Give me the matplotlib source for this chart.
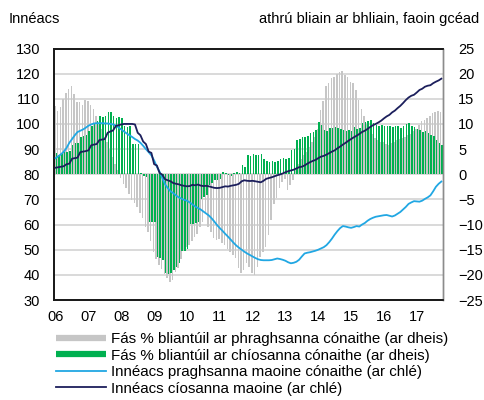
import matplotlib
matplotlib.use("Agg")
import matplotlib.pyplot as plt
from matplotlib.lines import Line2D
import numpy as np

plt.rcParams['font.family'] = ['Liberation Sans', 'DejaVu Sans']

year_labels = ['06', '07', '08', '09', '10', '11', '12', '13', '14', '15', '16', '17']

# Monthly, Jan 2006 .. Oct 2017
house_price_growth = [
    13.5, 12.6, 13.3, 15.0, 16.1, 16.9, 17.5, 16.0, 14.3, 14.4, 13.8, 14.8,
    14.5, 13.8, 13.0, 11.5, 10.0, 9.0, 7.5, 6.5, 5.0, 3.5, 2.0, 0.8,
    -0.8, -2.0, -2.8, -4.0, -5.1, -5.8, -6.5, -7.8, -8.6, -10.5, -11.4, -13.2,
    -15.4, -16.8, -18.0, -18.8, -19.8, -20.6, -21.4, -21.0, -19.4, -18.6, -16.8, -15.2,
    -14.4, -14.1, -13.2, -12.4, -11.8, -10.4, -9.4, -7.6, -10.4, -11.4, -12.7, -13.1,
    -12.8, -13.7, -14.1, -14.8, -15.4, -16.1, -16.6, -18.7, -19.7, -19.0, -17.7, -18.5,
    -19.7, -20.1, -18.5, -16.5, -15.5, -14.5, -12.0, -9.0, -6.0, -4.8, -2.7, -1.5,
    -1.0, -3.2, -2.2, -1.2, 0.8, 2.0, 3.0, 3.8, 4.5, 5.5, 6.5, 7.5,
    9.0, 12.8, 14.5, 17.5, 18.1, 19.1, 19.4, 20.0, 20.4, 20.6, 19.8, 19.4,
    18.4, 18.1, 16.8, 14.8, 13.0, 11.5, 10.0, 9.0, 8.0, 7.2, 6.8, 6.5,
    6.5, 6.0, 5.8, 6.2, 6.5, 6.8, 7.0, 7.2, 7.5, 7.8, 8.0, 8.5,
    9.0, 9.8, 10.5, 10.8, 11.2, 11.5, 12.2, 12.3, 12.5, 12.4,
]

rent_growth = [
    4.3, 3.9, 4.2, 4.5, 4.5, 4.6, 5.9, 6.3, 6.2, 7.5, 7.6, 7.8,
    8.5, 9.6, 10.0, 10.6, 11.5, 11.4, 11.6, 12.3, 12.4, 11.6, 11.2, 11.3,
    11.2, 9.5, 9.4, 9.5, 6.0, 6.0, 6.0, 0.2, -0.3, -0.5, -9.4, -9.5,
    -9.4, -16.5, -16.7, -17.0, -19.6, -19.8, -19.6, -19.0, -18.5, -17.7, -15.3, -15.2,
    -14.8, -9.8, -9.8, -9.6, -9.5, -5.0, -4.5, -4.1, -2.1, -1.8, -1.2, -1.1,
    -0.9, 0.5, 0.3, -0.2, -0.4, 0.2, 0.4, 0.3, 1.8, 1.5, 3.8, 3.6,
    4.0, 3.9, 3.8, 4.0, 3.0, 2.6, 2.5, 2.6, 2.4, 2.6, 3.0, 3.2,
    3.0, 3.3, 4.8, 5.0, 6.8, 7.0, 7.5, 7.4, 7.6, 8.2, 8.4, 8.8,
    10.3, 9.8, 8.8, 8.5, 9.2, 9.1, 9.3, 9.2, 9.0, 8.8, 8.6, 8.7,
    8.5, 9.4, 9.0, 9.2, 10.2, 10.3, 10.5, 10.7, 10.2, 9.8, 9.5, 9.7,
    9.6, 9.6, 9.5, 9.4, 9.6, 9.5, 9.2, 9.6, 10.0, 10.1, 9.6, 9.4,
    8.9, 8.7, 8.4, 8.6, 8.3, 7.9, 7.6, 6.9, 6.3, 5.8,
]

house_price_index = [
    86.4, 87.2, 88.0, 89.0, 90.5, 92.5, 94.0, 95.5, 96.8, 97.3, 97.8, 98.5,
    99.3, 99.8, 100.2, 100.3, 100.3, 100.3, 100.2, 100.2, 100.0, 99.8, 99.4, 98.6,
    97.8, 97.0, 96.2, 95.5, 94.8, 94.0, 93.4, 92.5, 91.3, 90.0, 88.8, 87.5,
    85.5, 83.0, 81.0, 78.5, 76.0, 74.5, 73.2, 72.5, 71.6, 70.8, 70.3, 69.8,
    69.5, 68.8, 68.0, 67.2, 66.6, 66.0, 65.2, 64.4, 63.6, 62.5, 61.2, 59.8,
    58.6, 57.5, 56.3, 55.2, 54.0, 52.8, 51.7, 50.8, 50.0, 49.2, 48.5, 47.9,
    47.3, 46.7, 46.2, 45.9, 45.8, 45.8, 45.8, 45.9, 46.2, 46.5, 46.3, 46.0,
    45.6, 45.0, 44.6, 44.8, 45.2, 46.0, 47.3, 48.5, 48.8, 49.0, 49.3, 49.6,
    50.0, 50.5, 51.0, 51.8, 53.0, 54.4, 56.0, 57.4, 58.6, 59.4, 59.2, 58.9,
    58.7, 59.0, 59.4, 59.2, 60.0, 60.6, 61.5, 62.2, 62.7, 63.1, 63.3, 63.5,
    63.7, 63.8, 63.5, 63.2, 63.6, 64.3, 65.0, 66.0, 67.0, 68.2, 68.8, 69.3,
    69.2, 69.1, 69.5, 70.2, 70.8, 71.6, 73.2, 75.0, 76.2, 77.1,
]

rent_index = [
    82.6, 82.8, 83.0, 83.2, 84.0, 84.2, 86.2, 86.4, 86.6, 88.8, 89.0, 89.2,
    89.5, 91.5, 91.8, 92.0, 93.6, 93.8, 94.0, 96.5, 97.0, 97.4, 99.2, 99.5,
    99.8, 100.0, 100.0, 100.0, 100.0, 99.8, 96.5, 95.5, 93.0, 92.0, 89.0, 88.5,
    84.0, 83.5, 80.5, 79.8, 78.0, 77.6, 77.2, 76.5, 76.2, 76.0, 75.6, 75.4,
    75.2, 75.3, 75.8, 75.6, 75.9, 75.5, 75.3, 75.4, 75.2, 74.9, 74.6, 74.5,
    74.6, 74.9, 75.2, 75.1, 75.4, 75.6, 75.8, 76.2, 77.2, 77.6, 77.4, 77.3,
    77.4, 77.2, 77.0, 76.8, 77.4, 78.2, 78.5, 78.8, 79.2, 79.6, 79.9, 80.3,
    80.8, 81.2, 81.5, 81.8, 82.3, 82.8, 83.0, 83.5, 84.2, 84.8, 85.3, 85.7,
    86.4, 87.0, 87.3, 87.8, 88.4, 89.0, 89.5, 90.3, 91.0, 91.8, 92.5, 93.3,
    94.0, 94.7, 95.3, 96.0, 96.8, 97.3, 98.0, 98.8, 99.5, 100.0, 100.6, 101.3,
    102.2, 103.0, 103.6, 104.6, 105.3, 106.3, 107.2, 108.3, 109.5, 110.5, 111.2, 111.6,
    112.5, 113.5, 114.0, 114.8, 115.2, 115.4, 116.2, 116.8, 117.3, 118.0,
]

legend_labels = [
    'Fás % bliantúil ar phraghsanna cónaithe (ar dheis)',
    'Fás % bliantúil ar chíosanna cónaithe (ar dheis)',
    'Innéacs praghsanna maoine cónaithe (ar chlé)',
    'Innéacs cíosanna maoine (ar chlé)',
]

GREY = '#c6c6c6'
GREEN = '#00b050'
LIGHTBLUE = '#21a7e3'
NAVY = '#1c1f5c'
FS = 10.5

W, H = 484, 400
fig = plt.figure(figsize=(W / 100, H / 100), dpi=100)
ax = fig.add_axes([54 / W, 1 - 300 / H, (443 - 54) / W, (300 - 48.5) / H])
ax2 = ax.twinx()

n = len(rent_growth)
x = np.arange(n)
ax2.bar(x - 0.24, house_price_growth, width=0.55, color=GREY, linewidth=0, zorder=2)
ax2.bar(x + 0.24, rent_growth, width=0.55, color=GREEN, linewidth=0, zorder=3)
ax2.set_ylim(-25, 25)
ax2.set_yticks(np.arange(-25, 26, 5))
ax2.grid(axis='y', color='#d9d9d9', linewidth=1.4)
ax2.set_axisbelow(True)

ax.plot(x, house_price_index, color=LIGHTBLUE, linewidth=1.3, zorder=5)
ax.plot(x, rent_index, color=NAVY, linewidth=1.3, zorder=6)
ax.set_ylim(30, 130)
ax.set_yticks(np.arange(30, 131, 10))
ax.set_xlim(-0.6, n - 0.4)
ax.set_xticks(np.arange(0, n, 12))
ax.set_xticklabels(year_labels)

ax.set_zorder(ax2.get_zorder() + 1)
ax.patch.set_visible(False)

for a in (ax, ax2):
    a.tick_params(length=0, labelsize=FS, colors='#000000')
ax.tick_params(axis='y', pad=10)
ax2.tick_params(axis='y', pad=11)
ax.tick_params(axis='x', pad=7)

for a in (ax, ax2):
    for s in ('left', 'top', 'bottom'):
        a.spines[s].set_color('#1a1a1a')
        a.spines[s].set_linewidth(1.3)
    a.spines['right'].set_color('#8c8c8c')
    a.spines['right'].set_linewidth(1.0)

fig.text(9 / W, 1 - 19 / H, 'Innéacs', fontsize=FS, va='center', ha='left')
fig.text(479 / W, 1 - 19 / H, 'athrú bliain ar bhliain, faoin gcéad', fontsize=FS, va='center', ha='right')

handles = [
    Line2D([], [], color=GREY, linewidth=4.5, solid_capstyle='butt'),
    Line2D([], [], color=GREEN, linewidth=4.5, solid_capstyle='butt'),
    Line2D([], [], color=LIGHTBLUE, linewidth=1.3),
    Line2D([], [], color=NAVY, linewidth=1.3),
]
fig.legend(handles, legend_labels, loc='upper left', bbox_to_anchor=(56 / W, 1 - 332 / H),
           frameon=False, fontsize=10.9, handlelength=3.3, handletextpad=0.35,
           labelspacing=0.17, borderpad=0, borderaxespad=0)

fig.savefig('out.png', dpi=100)
